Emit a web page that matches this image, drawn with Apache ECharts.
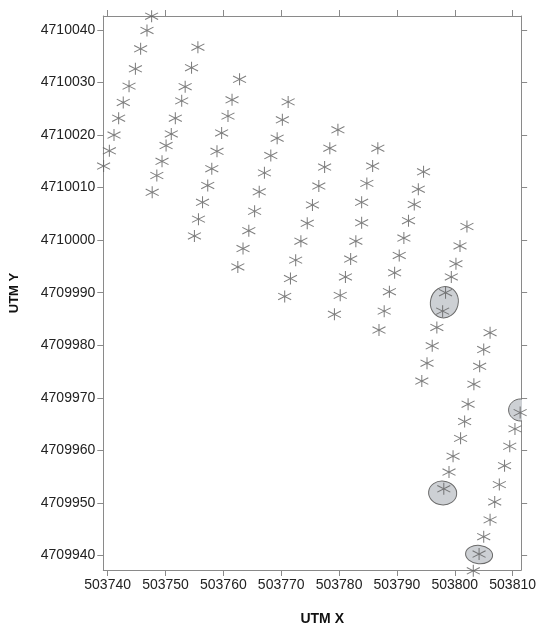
<!DOCTYPE html>
<html>
<head>
<meta charset="utf-8">
<script src="https://cdn.jsdelivr.net/npm/echarts@6/dist/echarts.min.js"></script>
<style>
  html, body { margin: 0; padding: 0; background: #fff; }
  #chart { width: 539px; height: 631px; }
</style>
</head>
<body>
<div id="chart"></div>
<script>
// sample points, one row per transect (lower-left to upper-right)
const utmX = [
  [503747.6, 503746.8, 503745.7, 503744.8, 503743.7, 503742.7, 503741.9, 503741.1, 503740.3, 503739.3],
  [503755.6, 503754.5, 503753.4, 503752.8, 503751.7, 503751.0, 503750.1, 503749.4, 503748.5, 503747.7],
  [503762.8, 503761.5, 503760.8, 503759.7, 503758.9, 503758.0, 503757.3, 503756.4, 503755.7, 503755.0],
  [503771.2, 503770.2, 503769.3, 503768.2, 503767.1, 503766.2, 503765.4, 503764.4, 503763.4, 503762.5],
  [503779.8, 503778.4, 503777.5, 503776.5, 503775.4, 503774.5, 503773.4, 503772.5, 503771.6, 503770.6],
  [503786.7, 503785.8, 503784.8, 503783.9, 503783.9, 503782.9, 503782.0, 503781.1, 503780.2, 503779.2],
  [503794.6, 503793.7, 503793.0, 503792.0, 503791.2, 503790.4, 503789.6, 503788.7, 503787.8, 503786.9],
  [503802.1, 503800.9, 503800.2, 503799.4, 503798.4, 503797.9, 503796.9, 503796.1, 503795.2, 503794.3],
  [503806.1, 503805.0, 503804.3, 503803.3, 503802.3, 503801.7, 503801.0, 503799.7, 503799.0, 503798.1],
  [503811.3, 503810.4, 503809.5, 503808.6, 503807.7, 503806.9, 503806.1, 503805.0, 503804.2, 503803.2]
];
const utmY = [
  [4710042.6, 4710039.9, 4710036.4, 4710032.6, 4710029.3, 4710026.2, 4710023.2, 4710020.0, 4710017.0, 4710014.1],
  [4710036.7, 4710032.8, 4710029.2, 4710026.5, 4710023.2, 4710020.2, 4710018.0, 4710015.0, 4710012.3, 4710009.1],
  [4710030.6, 4710026.7, 4710023.6, 4710020.4, 4710016.9, 4710013.6, 4710010.4, 4710007.2, 4710004.0, 4710000.8],
  [4710026.3, 4710022.9, 4710019.4, 4710016.1, 4710012.8, 4710009.2, 4710005.5, 4710001.8, 4709998.4, 4709994.9],
  [4710021.0, 4710017.5, 4710013.9, 4710010.3, 4710006.7, 4710003.2, 4709999.8, 4709996.2, 4709992.7, 4709989.3],
  [4710017.5, 4710014.1, 4710010.8, 4710007.2, 4710003.3, 4709999.8, 4709996.4, 4709993.0, 4709989.5, 4709985.9],
  [4710013.0, 4710009.7, 4710006.8, 4710003.7, 4710000.4, 4709997.1, 4709993.8, 4709990.2, 4709986.5, 4709982.9],
  [4710002.6, 4709998.9, 4709995.5, 4709993.0, 4709990.0, 4709986.5, 4709983.4, 4709979.9, 4709976.6, 4709973.2],
  [4709982.4, 4709979.2, 4709976.0, 4709972.6, 4709968.8, 4709965.5, 4709962.3, 4709958.9, 4709955.9, 4709952.7],
  [4709967.2, 4709964.1, 4709960.8, 4709957.1, 4709953.5, 4709950.2, 4709946.8, 4709943.6, 4709940.3, 4709937.1]
];

// shaded ellipses (centre, half axes in metres, tilt in radians)
const ellipseX = [503798.2, 503797.9, 503804.2, 503811.4];
const ellipseY = [4709988.2, 4709951.9, 4709940.2, 4709967.7];
const ellipseRx = [2.4, 2.43, 2.34, 2.1];
const ellipseRy = [3.0, 2.26, 1.74, 2.1];
const ellipseTilt = [-0.25, -0.1, -0.1, 0];

const xTicks = [503740, 503750, 503760, 503770, 503780, 503790, 503800, 503810];
const yTicks = [4709940, 4709950, 4709960, 4709970, 4709980, 4709990, 4710000, 4710010, 4710020, 4710030, 4710040];

const xMin = 503739.25, xMax = 503811.47;
const yMin = 4709937.26, yMax = 4710042.64;

const points = [];
utmX.forEach((row, i) => {
  row.forEach((x, j) => points.push([x, utmY[i][j]]));
});
const ellipses = ellipseX.map((x, i) => [x, ellipseY[i], ellipseRx[i], ellipseRy[i], ellipseTilt[i]]);

const font = "'Liberation Sans', Arial, sans-serif";
const lineGrey = "#8a8a8a";

const chart = echarts.init(document.getElementById("chart"));

const baseAxis = (ticks, min, max) => ({
  type: "value",
  min: min,
  max: max,
  axisLine: { show: true, onZero: false, lineStyle: { color: lineGrey, width: 1 } },
  axisTick: { show: true, length: 6, customValues: ticks, lineStyle: { color: lineGrey } },
  splitLine: { show: false },
});

const option = {
  animation: false,
  backgroundColor: "#fff",
  grid: { left: 103.3, right: 13.7, top: 16, bottom: 56.5 },
  xAxis: [
    Object.assign(baseAxis(xTicks, xMin, xMax), {
      position: "bottom",
      name: "UTM X",
      nameLocation: "middle",
      nameGap: 42,
      nameTextStyle: { fontFamily: font, fontWeight: "bold", fontSize: 14, color: "#111", padding: [0, 0, 0, 20] },
      axisLabel: {
        customValues: xTicks,
        margin: 8,
        fontFamily: font,
        fontSize: 14,
        color: "#222",
        formatter: (v) => String(v),
      },
    }),
    Object.assign(baseAxis(xTicks, xMin, xMax), {
      position: "top",
      axisLabel: { show: false },
    }),
  ],
  yAxis: [
    Object.assign(baseAxis(yTicks, yMin, yMax), {
      position: "left",
      name: "UTM Y",
      nameLocation: "middle",
      nameGap: 82,
      nameTextStyle: { fontFamily: font, fontWeight: "bold", fontSize: 13, color: "#111" },
      axisLabel: {
        customValues: yTicks,
        margin: 8,
        fontFamily: font,
        fontSize: 14,
        color: "#222",
        formatter: (v) => String(v),
      },
    }),
    Object.assign(baseAxis(yTicks, yMin, yMax), {
      position: "right",
      axisLabel: { show: false },
    }),
  ],
  series: [
    {
      type: "custom",
      xAxisIndex: 0,
      yAxisIndex: 0,
      clip: true,
      data: ellipses,
      renderItem: function (params, api) {
        const c = api.coord([api.value(0), api.value(1)]);
        const s = api.size([api.value(2), api.value(3)]);
        return {
          type: "ellipse",
          x: c[0],
          y: c[1],
          rotation: api.value(4),
          shape: { cx: 0, cy: 0, rx: s[0], ry: s[1] },
          style: { fill: "#cdd0d4", stroke: "#6a6a6a", lineWidth: 1 },
        };
      },
    },
    {
      type: "scatter",
      xAxisIndex: 0,
      yAxisIndex: 0,
      clip: false,
      data: points,
      symbol: "path://M0,-6L0,6M-6.3,-3.3L6.3,3.3M-6.3,3.3L6.3,-3.3",
      symbolSize: [13, 12],
      itemStyle: { color: "none", borderColor: "#5e5e5e", borderWidth: 1 },
      emphasis: { disabled: true },
    },
  ],
};

chart.setOption(option);
</script>
</body>
</html>
